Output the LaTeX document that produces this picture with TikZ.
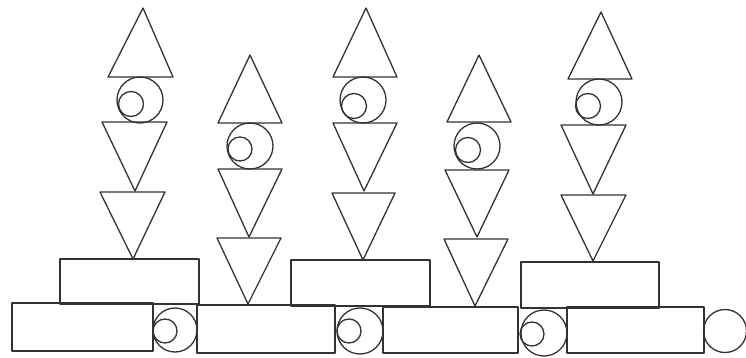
\documentclass[tikz,border=0pt]{standalone}
\begin{document}
\begin{tikzpicture}[x=1pt,y=-1pt,line width=1.3pt,line join=round]
\tikzset{outl/.style={draw=black!80}}
\useasboundingbox (0,0) rectangle (746,358);
% Column A
\draw[outl] (143,8) -- (108,77) -- (173,77) -- cycle;
\draw[outl] (140,100) circle (23);
\draw[outl] (131,104) circle (12.5);
\draw[outl] (102,122) -- (167,122) -- (135,191) -- cycle;
\draw[outl] (100,192) -- (165,192) -- (133,259) -- cycle;
\draw[outl] (60,259) rectangle (199,304);
% Column B
\draw[outl] (250,55) -- (218,123) -- (282,123) -- cycle;
\draw[outl] (250,146) circle (23);
\draw[outl] (240,149) circle (12);
\draw[outl] (218,169) -- (282,169) -- (249,237) -- cycle;
\draw[outl] (217,238) -- (281,238) -- (248,304) -- cycle;
% Column C
\draw[outl] (366,8) -- (333,77) -- (397,77) -- cycle;
\draw[outl] (363,100) circle (23);
\draw[outl] (354,106) circle (12.5);
\draw[outl] (333,123) -- (397,123) -- (364,191) -- cycle;
\draw[outl] (332,193) -- (395,193) -- (363,260) -- cycle;
\draw[outl] (291,260) rectangle (430,306);
% Column D
\draw[outl] (479,55) -- (447,122) -- (511,122) -- cycle;
\draw[outl] (477,146) circle (23);
\draw[outl] (468,150) circle (12.5);
\draw[outl] (445,170) -- (509,170) -- (477,237) -- cycle;
\draw[outl] (444,239) -- (508,239) -- (475,306) -- cycle;
% Column E
\draw[outl] (601,12) -- (568,79) -- (632,79) -- cycle;
\draw[outl] (599,102) circle (23);
\draw[outl] (588,106) circle (12.5);
\draw[outl] (561,125) -- (626,125) -- (593,194) -- cycle;
\draw[outl] (561,195) -- (626,195) -- (593,261) -- cycle;
\draw[outl] (521,262) rectangle (659,308);
% Bottom row
\draw[outl] (12,303) rectangle (153,351);
\draw[outl] (175,330) circle (22);
\draw[outl] (165,331) circle (12);
\draw[outl] (197,305) rectangle (335,353);
\draw[outl] (360,331) circle (23);
\draw[outl] (349,331) circle (12);
\draw[outl] (383,307) rectangle (518,353);
\draw[outl] (544,333) circle (23);
\draw[outl] (532,334) circle (12);
\draw[outl] (567,307) rectangle (704,353);
\draw[outl] (725,331) circle (21.5);
\end{tikzpicture}
\end{document}
